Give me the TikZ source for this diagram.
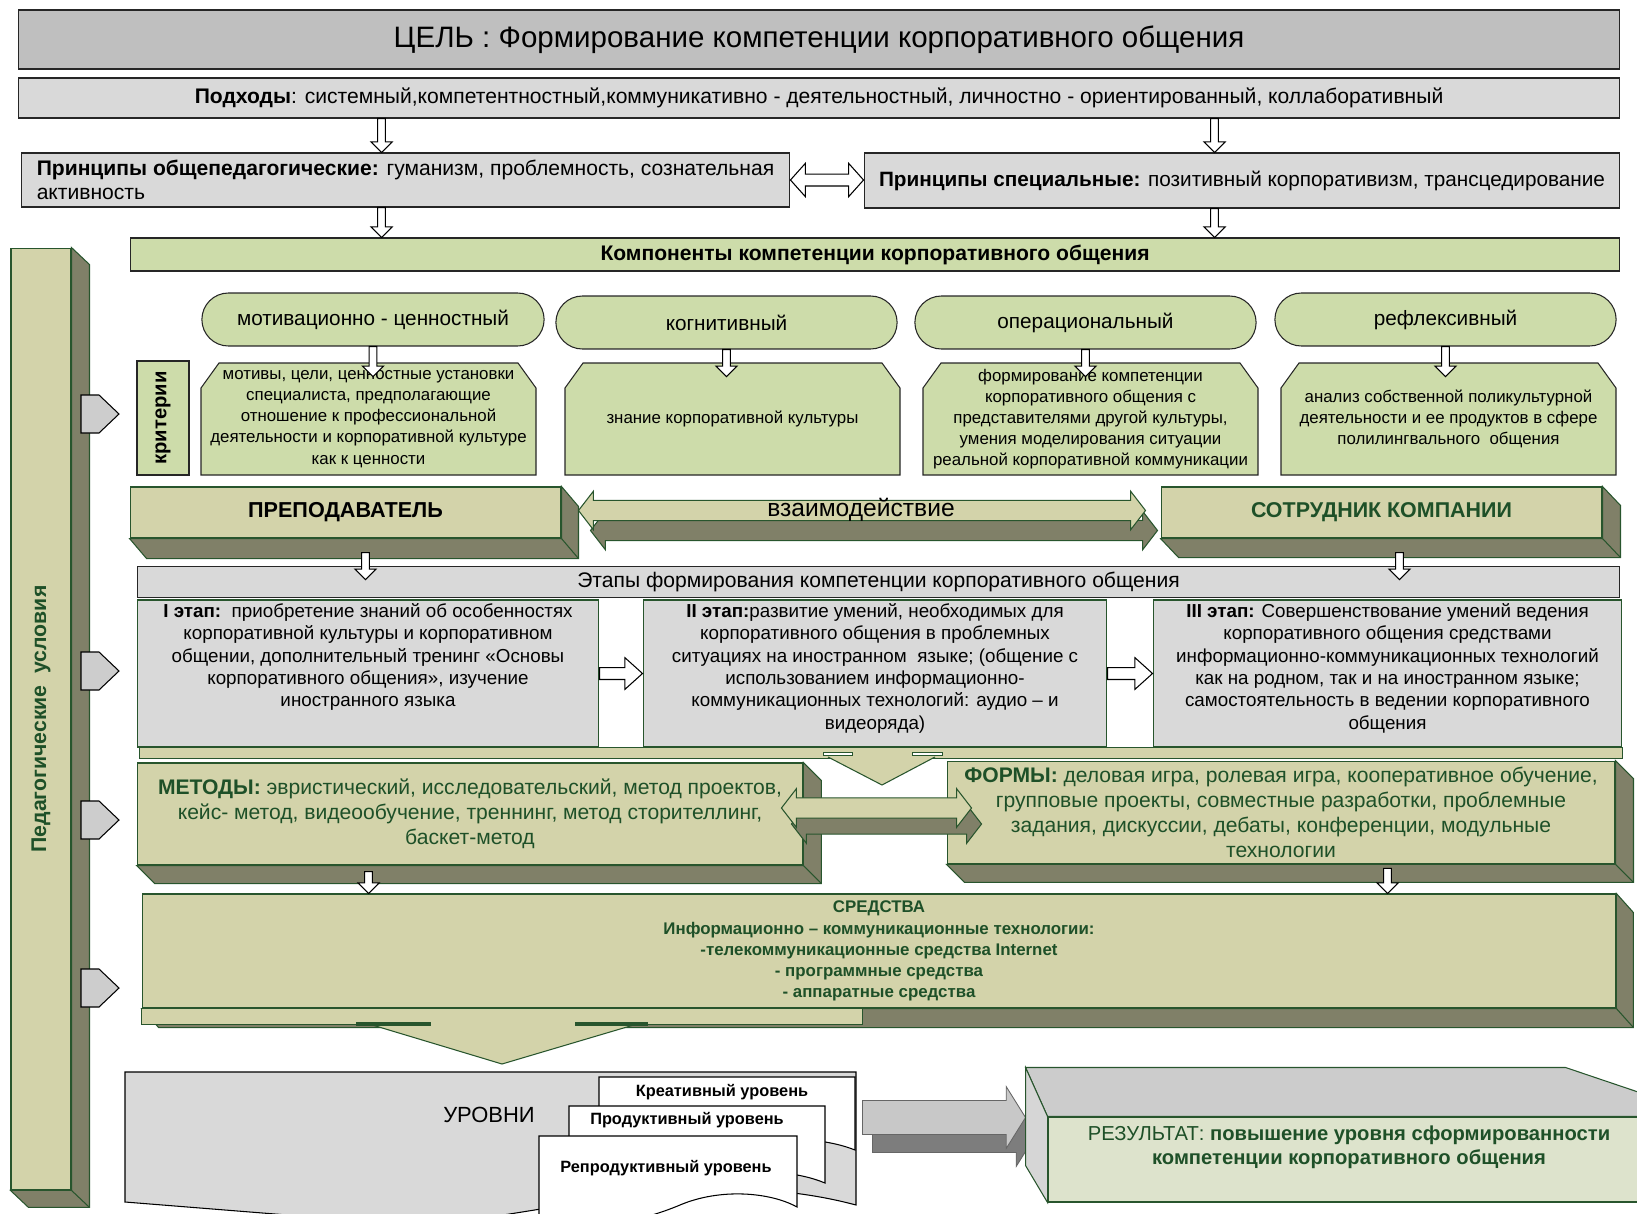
\documentclass[tikz,border=0pt]{standalone}
\usepackage{fontspec}
\setmainfont{Liberation Sans}
\usepackage{graphicx}
\usetikzlibrary{calc, shapes.misc}

\definecolor{goalgray}{RGB}{191,191,191}
\definecolor{boxgray}{RGB}{217,217,217}
\definecolor{compgreen}{RGB}{205,220,170}
\definecolor{olivefront}{RGB}{211,211,170}
\definecolor{oliveside}{RGB}{128,128,104}
\definecolor{edgegreen}{RGB}{40,85,45}
\definecolor{textgreen}{RGB}{30,80,40}
\definecolor{pentgray}{RGB}{205,205,205}
\definecolor{resfront}{RGB}{221,227,204}
\definecolor{restop}{RGB}{204,204,204}
\definecolor{resleft}{RGB}{214,214,214}
\definecolor{arrowgray}{RGB}{200,200,200}
\definecolor{arrowdark}{RGB}{125,125,125}

\begin{document}
\begin{tikzpicture}[x=0.02cm, y=-0.02cm]
    \tikzstyle{greybox}=[draw=black!85, fill=boxgray, line width=0.6pt]
    \tikzstyle{goalbox}=[greybox, fill=goalgray, font=\fontsize{16.8}{19}\selectfont]
    \tikzstyle{greenbox}=[draw=black!85, fill=compgreen, line width=0.6pt]
    \tikzstyle{pill}=[greenbox, rounded rectangle, font=\fontsize{11.8}{14}\selectfont]
    \tikzstyle{crit}=[inner sep=0pt, align=center, font=\fontsize{9.6}{12}\selectfont]
    \tikzstyle{olivebox}=[draw=edgegreen, fill=olivefront, line width=0.6pt]
    \tikzstyle{sideface}=[draw=edgegreen, fill=oliveside, line width=0.6pt]
    \tikzstyle{stagebox}=[draw=edgegreen, fill=boxgray, line width=0.6pt, inner sep=0pt, font=\fontsize{10.7}{12.7}\selectfont]
    \tikzstyle{pentarrow}=[draw=black, fill=pentgray, line width=0.6pt]
    \tikzstyle{cardface}=[draw=black, fill=white, line width=0.6pt]
    \tikzstyle{cardtext}=[font=\bfseries\fontsize{9.3}{11}\selectfont, inner sep=0pt]
    \tikzstyle{hollowarrow}=[draw=black, fill=white, line width=0.6pt]
    \tikzstyle{hdown}=[hollowarrow, to path={let \p1=(\tikztostart), \p2=(\tikztotarget) in (\x1-2.2pt,\y1) -- (\x1-2.2pt,\y2+6pt) -- (\x1-6pt,\y2+6pt) -- (\x1,\y2) -- (\x1+6pt,\y2+6pt) -- (\x1+2.2pt,\y2+6pt) -- (\x1+2.2pt,\y1) -- cycle}]
    \tikzstyle{hright}=[hollowarrow, to path={let \p1=(\tikztostart), \p2=(\tikztotarget) in (\x1,\y1+3.4pt) -- (\x2-10pt,\y1+3.4pt) -- (\x2-10pt,\y1+9pt) -- (\x2,\y1) -- (\x2-10pt,\y1-9pt) -- (\x2-10pt,\y1-3.4pt) -- (\x1,\y1-3.4pt) -- cycle}]
    \tikzstyle{hboth}=[hollowarrow, to path={let \p1=(\tikztostart), \p2=(\tikztotarget) in (\x1,\y1) -- (\x1+8.5pt,\y1+9.5pt) -- (\x1+8.5pt,\y1+3.4pt) -- (\x2-8.5pt,\y1+3.4pt) -- (\x2-8.5pt,\y1+9.5pt) -- (\x2,\y1) -- (\x2-8.5pt,\y1-9.5pt) -- (\x2-8.5pt,\y1-3.4pt) -- (\x1+8.5pt,\y1-3.4pt) -- (\x1+8.5pt,\y1-9.5pt) -- cycle}]
    \tikzstyle{dblarrow}=[to path={let \p1=(\tikztostart), \p2=(\tikztotarget) in (\x1,\y1) -- (\x1+8.5pt,\y1+11pt) -- (\x1+8.5pt,\y1+5.8pt) -- (\x2-8.5pt,\y1+5.8pt) -- (\x2-8.5pt,\y1+11pt) -- (\x2,\y1) -- (\x2-8.5pt,\y1-11pt) -- (\x2-8.5pt,\y1-5.8pt) -- (\x1+8.5pt,\y1-5.8pt) -- (\x1+8.5pt,\y1-11pt) -- cycle}]
    \tikzstyle{bigright}=[to path={let \p1=(\tikztostart), \p2=(\tikztotarget) in (\x1,\y1+9.7pt) -- (\x2-11pt,\y1+9.7pt) -- (\x2-11pt,\y1+17.6pt) -- (\x2,\y1) -- (\x2-11pt,\y1-17.6pt) -- (\x2-11pt,\y1-9.7pt) -- (\x1,\y1-9.7pt) -- cycle}]

    \useasboundingbox (0,0) rectangle (1637,1214);
    \clip (0,0) rectangle (1637,1214);

    % goal, approaches, principles
    \node[goalbox, minimum width=32.04cm, minimum height=1.18cm] (goal) at (819,39.5) {ЦЕЛЬ : Формирование компетенции корпоративного общения};
    \node[greybox, minimum width=32.04cm, minimum height=0.8cm, font=\fontsize{12}{14}\selectfont] (podhody) at (819,98) {\textbf{Подходы}: системный,компетентностный,коммуникативно - деятельностный, личностно - ориентированный, коллаборативный};
    \node[greybox, minimum width=15.38cm, minimum height=1.08cm, align=left, font=\fontsize{12}{13.5}\selectfont] (pr1) at (405.5,180) {\textbf{Принципы общепедагогические:} гуманизм, проблемность, сознательная\\активность};
    \node[greybox, minimum width=15.12cm, minimum height=1.1cm, font=\fontsize{11.8}{13.5}\selectfont] (pr2) at (1242,180.5) {\textbf{Принципы специальные:} позитивный корпоративизм, трансцедирование};
    \node[greenbox, minimum width=29.8cm, minimum height=0.66cm, font=\bfseries\fontsize{12}{13}\selectfont] (comps) at (875,254.5) {Компоненты компетенции корпоративного общения};

    \path[hdown] ($(pr1.north west |- podhody.south)+(361,0)$) to ($(pr1.north west)+(361,0)$);
    \path[hdown] ($(pr2.north west |- podhody.south)+(351,0)$) to ($(pr2.north west)+(351,0)$);
    \path[hboth] (pr1.east) to (pr2.west);
    \path[hdown] ($(pr1.south west)+(361,0)$) to ($(pr1.south west |- comps.north)+(361,0)$);
    \path[hdown] ($(pr2.south west)+(351,0)$) to ($(pr2.south west |- comps.north)+(351,0)$);

    % pedagogical conditions bar
    \node[olivebox, minimum width=1.2cm, minimum height=18.84cm, text=textgreen, font=\bfseries\fontsize{12.1}{14}\selectfont] (bar) at (41,719) {\rotatebox{90}{Педагогические\ \ условия}};
    \filldraw[sideface] (bar.north east) -- ++(18,17) -- ($(bar.south east)+(18,17)$) -- ($(bar.south west)+(18,17)$) -- (bar.south west) -- (bar.south east) -- cycle;
    \draw[sideface] (bar.south east) -- ++(18,17);
    \filldraw[pentarrow] (81,395) -- (99,395) -- (119,414) -- (99,433) -- (81,433) -- cycle;
    \filldraw[pentarrow] (81,652) -- (99,652) -- (119,671) -- (99,690) -- (81,690) -- cycle;
    \filldraw[pentarrow] (81,801) -- (99,801) -- (119,820) -- (99,839) -- (81,839) -- cycle;
    \filldraw[pentarrow] (81,969) -- (99,969) -- (119,988) -- (99,1007) -- (81,1007) -- cycle;

    % components and criteria
    \node[pill, minimum width=7.08cm, minimum height=1.06cm] (c1) at (373,319.5) {мотивационно - ценностный};
    \node[pill, minimum width=7.06cm, minimum height=1.06cm] (c2) at (726.5,322.5) {когнитивный};
    \node[pill, minimum width=7.06cm, minimum height=1.06cm] (c3) at (1085.5,322.5) {операциональный};
    \node[pill, minimum width=7.06cm, minimum height=1.06cm] (c4) at (1445.5,319.5) {рефлексивный};

    \node[greenbox, minimum width=1.04cm, minimum height=2.28cm, font=\bfseries\fontsize{11.5}{13}\selectfont] (krit) at (163,418) {\rotatebox{90}{критерии}};
    \filldraw[greenbox] (201,388) -- (219,363) -- (518,363) -- (536,388) -- (536,475) -- (201,475) -- cycle;
    \node[crit, minimum width=6.7cm, minimum height=2.24cm] (k1) at (368.5,419) {мотивы, цели, ценностные установки\\специалиста, предполагающие\\отношение к профессиональной\\деятельности и корпоративной культуре\\как к ценности};
    \filldraw[greenbox] (565,388) -- (583,363) -- (882,363) -- (900,388) -- (900,475) -- (565,475) -- cycle;
    \node[crit, minimum width=6.7cm, minimum height=2.24cm] (k2) at (732.5,419) {знание корпоративной культуры};
    \filldraw[greenbox] (923,388) -- (941,363) -- (1240,363) -- (1258,388) -- (1258,475) -- (923,475) -- cycle;
    \node[crit, minimum width=6.7cm, minimum height=2.24cm] (k3) at (1090.5,419) {формирование компетенции\\корпоративного общения с\\представителями другой культуры,\\умения моделирования ситуации\\реальной корпоративной коммуникации};
    \filldraw[greenbox] (1281,388) -- (1299,363) -- (1598,363) -- (1616,388) -- (1616,475) -- (1281,475) -- cycle;
    \node[crit, minimum width=6.7cm, minimum height=2.24cm] (k4) at (1448.5,419) {анализ собственной поликультурной\\деятельности и ее продуктов в сфере\\полилингвального\ \ общения};

    \path[hdown] (c1.south) to ($(c1.south |- k1.north)+(0,14)$);
    \path[hdown] (c2.south) to ($(c2.south |- k2.north)+(0,14)$);
    \path[hdown] (c3.south) to ($(c3.south |- k3.north)+(0,14)$);
    \path[hdown] (c4.south) to ($(c4.south |- k4.north)+(0,14)$);

    % teacher, employee, interaction
    \node[olivebox, minimum width=8.62cm, minimum height=1.02cm, font=\bfseries\fontsize{12.3}{15}\selectfont] (prep) at (345.5,512.5) {ПРЕПОДАВАТЕЛЬ};
    \filldraw[sideface] (prep.north east) -- ++(17,20) -- ($(prep.south east)+(17,20)$) -- ($(prep.south west)+(17,20)$) -- (prep.south west) -- (prep.south east) -- cycle;
    \draw[sideface] (prep.south east) -- ++(17,20);
    \node[olivebox, minimum width=8.82cm, minimum height=1.02cm, text=textgreen, font=\bfseries\fontsize{12.2}{15}\selectfont] (sotr) at (1381.5,512.5) {СОТРУДНИК КОМПАНИИ};
    \filldraw[sideface] (sotr.north east) -- ++(18,19) -- ($(sotr.south east)+(18,19)$) -- ($(sotr.south west)+(18,19)$) -- (sotr.south west) -- (sotr.south east) -- cycle;
    \draw[sideface] (sotr.south east) -- ++(18,19);

    \path[sideface, dblarrow] ($(prep.east)+(29,18)$) to ($(sotr.west)+(-3,18)$);
    \path[olivebox, dblarrow] ($(prep.east)+(17,-2)$) to ($(sotr.west)+(-15,-2)$);
    \node[font=\fontsize{14}{16}\selectfont, inner sep=0pt] (vz) at ($(prep.east)!0.5!(sotr.west)+(0,-3)$) {взаимодействие};

    % stages
    \node[greybox, minimum width=29.66cm, minimum height=0.52cm, font=\fontsize{12}{13}\selectfont] (etapy) at (878.5,582) {Этапы формирования компетенции корпоративного общения};
    \path[hdown] ($(prep.south)+(20,14)$) to ($(prep.south |- etapy.north)+(20,14)$);
    \path[hdown] ($(sotr.south)+(18,14)$) to ($(sotr.south |- etapy.north)+(18,14)$);

    \node[stagebox, minimum width=9.24cm, minimum height=2.94cm] (st1) at (368,673.5) {\parbox[c][2.8cm][t]{9cm}{\centering \textbf{I этап:}\ \ приобретение знаний об особенностях\\корпоративной культуры и корпоративном\\общении, дополнительный тренинг «Основы\\корпоративного общения», изучение\\иностранного языка}};
    \node[stagebox, minimum width=9.28cm, minimum height=2.94cm] (st2) at (875,673.5) {\parbox[c][2.8cm][t]{9cm}{\centering \textbf{II этап:}развитие умений, необходимых для\\корпоративного общения в проблемных\\ситуациях на иностранном\ \ языке; (общение с\\использованием информационно-\\коммуникационных технологий: аудио – и\\видеоряда)}};
    \node[stagebox, minimum width=9.38cm, minimum height=2.94cm] (st3) at (1387.5,673.5) {\parbox[c][2.8cm][t]{9.2cm}{\centering \textbf{III этап:} Совершенствование умений ведения\\корпоративного общения средствами\\информационно-коммуникационных технологий\\как на родном, так и на иностранном языке;\\самостоятельность в ведении корпоративного\\общения}};
    \path[hright] (st1.east) to (st2.west);
    \path[hright] (st2.east) to (st3.west);

    \filldraw[olivebox] ($(st1.south west)+(3,0)$) rectangle ($(st3.south east)+(0,11)$);
    \fill[olivefront] (828,757) -- (882,785) -- (935,757) -- cycle;
    \draw[edgegreen, line width=0.6pt] (828,757) -- (882,785) -- (935,757);
    \filldraw[draw=edgegreen, fill=white, line width=0.5pt] (823,752) rectangle (852,755);
    \filldraw[draw=edgegreen, fill=white, line width=0.5pt] (912,752) rectangle (942,755);

    % methods and forms
    \node[olivebox, minimum width=13.32cm, minimum height=2.04cm, text=textgreen, align=center, font=\fontsize{12}{14.3}\selectfont] (met) at (470,814) {\textbf{МЕТОДЫ:} эвристический, исследовательский, метод проектов,\\кейс- метод, видеообучение, треннинг, метод сторителлинг,\\баскет-метод};
    \filldraw[sideface] (met.north east) -- ++(18,18) -- ($(met.south east)+(18,18)$) -- ($(met.south west)+(18,18)$) -- (met.south west) -- (met.south east) -- cycle;
    \draw[sideface] (met.south east) -- ++(18,18);
    \node[olivebox, minimum width=13.36cm, minimum height=1.98cm, text=textgreen, align=center, font=\fontsize{12}{14.3}\selectfont] (form) at (1281,812.5) {\textbf{ФОРМЫ:} деловая игра, ролевая игра, кооперативное обучение,\\групповые проекты, совместные разработки, проблемные\\задания, дискуссии, дебаты, конференции, модульные\\технологии};
    \filldraw[sideface] (form.north east) -- ++(18,18) -- ($(form.south east)+(18,18)$) -- ($(form.south west)+(18,18)$) -- (form.south west) -- (form.south east) -- cycle;
    \draw[sideface] (form.south east) -- ++(18,18);

    \path[sideface, dblarrow] ($(met.east)+(-12,10)$) to ($(form.west)+(35,11.5)$);
    \path[olivebox, dblarrow] ($(met.east)+(-22,-6)$) to ($(form.west)+(25,-4.5)$);

    % means
    \node[olivebox, minimum width=29.48cm, minimum height=2.28cm, text=textgreen, align=center, font=\bfseries\fontsize{9.6}{12}\selectfont] (sred) at (879,951) {СРЕДСТВА\\Информационно – коммуникационные технологии:\\-телекоммуникационные средства Internet\\- программные средства\\- аппаратные средства};
    \filldraw[sideface] (sred.north east) -- ++(17,19) -- ($(sred.south east)+(17,19)$) -- ($(sred.south west)+(17,19)$) -- (sred.south west) -- (sred.south east) -- cycle;
    \draw[sideface] (sred.south east) -- ++(17,19);
    \filldraw[olivebox] (sred.south west) rectangle ($(sred.south west)+(721,16)$);
    \fill[olivefront] (369,1024) -- (502,1064) -- (637,1024) -- cycle;
    \draw[edgegreen, line width=0.6pt] (369,1024) -- (502,1064) -- (637,1024);
    \draw[edgegreen, line width=1.8pt] (356,1024) -- (431,1024);
    \draw[edgegreen, line width=1.8pt] (575,1024) -- (648,1024);

    \path[hdown] ($(met.south west)+(232,6)$) to ($(met.south west |- sred.north)+(232,0)$);
    \path[hdown] ($(form.south west)+(441,4)$) to ($(form.south west |- sred.north)+(441,0)$);

    % levels
    \filldraw[draw=black, fill=boxgray, line width=0.6pt] (125,1072) -- (856,1072) -- (856,1205) .. controls (650,1150) and (450,1260) .. (300,1216) -- (125,1202) -- cycle;
    \node[font=\fontsize{12.5}{14}\selectfont, inner sep=0pt] (urovni) at (489,1115) {УРОВНИ};
    \filldraw[cardface] (599,1077) -- (855,1077) -- (855,1150) .. controls (800,1128) and (700,1140) .. (599,1175) -- cycle;
    \node[cardtext] (kreat) at (722,1092) {Креативный уровень};
    \filldraw[cardface] (569,1106) -- (825,1106) -- (825,1183) .. controls (770,1160) and (680,1175) .. (569,1205) -- cycle;
    \node[cardtext] (prod) at (687,1120) {Продуктивный уровень};
    \filldraw[cardface] (539,1136) -- (797,1136) -- (797,1207) .. controls (770,1192) and (720,1188) .. (680,1205) .. controls (640,1222) and (590,1230) .. (539,1232) -- cycle;
    \node[cardtext] (repr) at (666,1168) {Репродуктивный уровень};

    % result
    \node[draw=edgegreen, fill=resfront, line width=0.6pt, minimum width=12.04cm, minimum height=1.7cm, inner sep=0pt, text=textgreen, font=\fontsize{11.5}{13.8}\selectfont] (res) at (1349,1159.5) {\parbox[c][1.6cm][t]{11.8cm}{\centering\vspace*{0.12cm}РЕЗУЛЬТАТ: \textbf{повышение уровня сформированности}\\\textbf{компетенции корпоративного общения}}};
    \path[fill=arrowdark, draw=black!60, line width=0.5pt, bigright] ($(res.west)+(-175,-24)$) to ($(res.west)+(-12,-24)$);
    \path[fill=arrowgray, draw=black!60, line width=0.5pt, bigright] ($(res.west)+(-185,-42)$) to ($(res.west)+(-22,-42)$);
    \filldraw[draw=edgegreen, fill=restop, line width=0.6pt] ($(res.north west)+(-22,-49)$) -- ($(res.north west)+(518,-49)$) -- ($(res.north east)+(60,0)$) -- (res.north west) -- cycle;
    \filldraw[draw=edgegreen, fill=resleft, line width=0.6pt] ($(res.north west)+(-22,-49)$) -- (res.north west) -- (res.south west) -- ($(res.south west)+(-22,-37)$) -- cycle;
\end{tikzpicture}
\end{document}
